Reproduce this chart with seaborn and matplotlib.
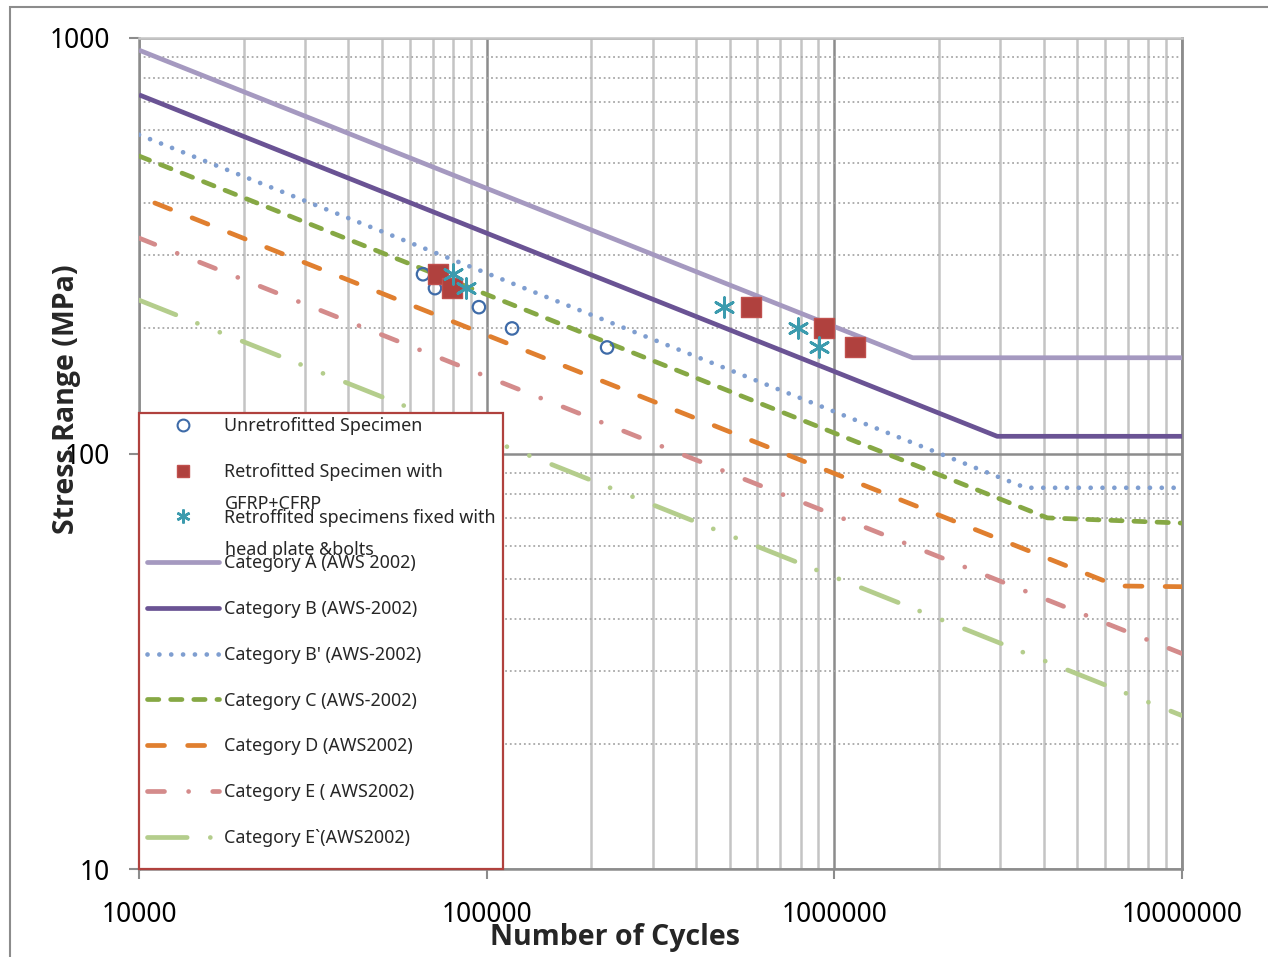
import numpy as np
import pandas as pd
import matplotlib
matplotlib.use("Agg")
import matplotlib.pyplot as plt
import seaborn as sns
from matplotlib.lines import Line2D
from matplotlib.patches import Rectangle
from matplotlib.ticker import FixedLocator, FixedFormatter, LogLocator, NullFormatter

# ---------------- data ----------------
cat_a_n = [1e4, 1.68e6, 1e7]
cat_a_s = [935, 170, 170]
cat_b_n = [1e4, 2.94e6, 1e7]
cat_b_s = [730, 110, 110]
cat_bp_n = [1e4, 3.55e6, 1e7]
cat_bp_s = [585, 82.7, 82.7]
cat_c_n = [1e4, 4.1e6, 1e7]
cat_c_s = [520, 70, 68]
cat_d_n = [1e4, 6.5e6, 1e7]
cat_d_s = [415, 48, 47.8]
cat_e_n = [1e4, 1e7]
cat_e_s = [330, 33]
cat_ep_n = [1e4, 1e7]
cat_ep_s = [234, 23.4]

unretro_n = [65600, 71000, 95000, 118300, 222000]
unretro_s = [270, 250, 225, 200, 180]
retro_n = [72400, 79500, 576000, 934000, 1146000]
retro_s = [270, 250, 225, 200, 180]
fixed_n = [80000, 87200, 481000, 786000, 903000]
fixed_s = [270, 250, 225, 200, 180]

x_ticks = [1e4, 1e5, 1e6, 1e7]
x_tick_labels = ["10000", "100000", "1000000", "10000000"]
y_ticks = [10, 100, 1000]
y_tick_labels = ["10", "100", "1000"]

legend_labels = [
    "Unretrofitted Specimen",
    "Retrofitted Specimen with",
    "Retroffited specimens fixed with",
    "Category A (AWS 2002)",
    "Category B (AWS-2002)",
    "Category B' (AWS-2002)",
    "Category C (AWS-2002)",
    "Category D (AWS2002)",
    "Category E ( AWS2002)",
    "Category E`(AWS2002)",
]
legend_overflow = ["GFRP+CFRP", "head plate &bolts"]

# ---------------- style ----------------
sns.set_style("white")
plt.rcParams["font.family"] = ["Noto Sans", "DejaVu Sans"]

W, H = 1268, 957
fig = plt.figure(figsize=(W / 100, H / 100), dpi=100)
L, R, T, B = 139, 1182, 38, 869
ax = fig.add_axes([L / W, 1 - B / H, (R - L) / W, (B - T) / H])

LW = 3.4
curves = [
    (cat_a_n, cat_a_s, "#A599C0", "-", "-"),
    (cat_b_n, cat_b_s, "#6A5394", "-", "-"),
    (cat_bp_n, cat_bp_s, "#7F9ED0", (0, (0.01, 2.5)), (0, (0.01, 2.5))),
    (cat_c_n, cat_c_s, "#86A844", (0, (2.4, 2.5)), (0, (2.4, 2.5))),
    (cat_d_n, cat_d_s, "#E07F2F", (4.9, (3.6, 4.9)), (0, (3.6, 4.9))),
    (cat_e_n, cat_e_s, "#D48B8B", (0, (3.6, 5.1, 0.01, 5.1)), (0, (3.6, 5.1, 0.01, 5.1))),
    (cat_ep_n, cat_ep_s, "#B4CD8C", (0, (8.4, 4.9, 0.01, 5.1, 0.01, 5.1)),
     (0, (8.4, 4.9, 0.01, 5.1, 0.01, 5.1))),
]

handles_lines = []
for n, s, col, ls, ls_leg in curves:
    sns.lineplot(x=n, y=s, ax=ax, color=col, lw=LW, estimator=None, sort=False,
                 legend=False)
    ln = ax.lines[-1]
    ln.set_linestyle(ls)
    ln.set_dash_capstyle("round")
    ln.set_solid_capstyle("butt")
    ln.set_zorder(3)
    h = Line2D([], [], color=col, lw=LW, linestyle=ls_leg, dash_capstyle="round",
               solid_capstyle="round")
    handles_lines.append(h)

# scatter series
sns.scatterplot(x=unretro_n, y=unretro_s, ax=ax, marker="o", s=80, legend=False)
c = ax.collections[-1]
c.set_facecolor("none"); c.set_edgecolor("#3E6BA8"); c.set_linewidth(1.6); c.set_zorder(5)

sns.scatterplot(x=retro_n, y=retro_s, ax=ax, marker="s", s=200, legend=False)
c = ax.collections[-1]
c.set_facecolor("#B0413E"); c.set_edgecolor("#C0504D"); c.set_linewidth(1.0); c.set_zorder(5)

sns.scatterplot(x=fixed_n, y=fixed_s, ax=ax, marker=(6, 2, 0), s=200, legend=False)
c = ax.collections[-1]
c.set_edgecolor("#3C9BAE"); c.set_facecolor("#3C9BAE"); c.set_linewidth(2.0); c.set_zorder(6)

# axes
ax.set_xscale("log")
ax.set_yscale("log")
ax.set_xlim(1e4, 1e7)
ax.set_ylim(10, 1000)

ax.xaxis.set_major_locator(FixedLocator(x_ticks))
ax.xaxis.set_major_formatter(FixedFormatter(x_tick_labels))
ax.yaxis.set_major_locator(FixedLocator(y_ticks))
ax.yaxis.set_major_formatter(FixedFormatter(y_tick_labels))
ax.xaxis.set_minor_locator(LogLocator(base=10, subs=np.arange(2, 10)))
ax.yaxis.set_minor_locator(LogLocator(base=10, subs=np.arange(2, 10)))
ax.xaxis.set_minor_formatter(NullFormatter())
ax.yaxis.set_minor_formatter(NullFormatter())

ax.tick_params(axis="both", which="major", direction="out", length=7, width=1.5,
               color="#8C8C8C", labelsize=19, labelcolor="black")
ax.tick_params(axis="y", which="major", pad=14, left=True)
ax.tick_params(axis="x", which="major", pad=16, bottom=True)
ax.tick_params(which="minor", length=0)

ax.grid(which="major", axis="x", color="#8C8C8C", lw=1.8, zorder=0)
ax.grid(which="minor", axis="x", color="#C4C4C4", lw=1.8, zorder=0)
ax.grid(which="major", axis="y", color="#8C8C8C", lw=1.8, zorder=0)
ax.grid(which="minor", axis="y", color="#A8A8A8", lw=1.3, linestyle=(0, (1, 1.6)), zorder=0)
ax.set_axisbelow(True)

for sp in ["left", "bottom"]:
    ax.spines[sp].set_color("#8C8C8C")
    ax.spines[sp].set_linewidth(1.8)
ax.spines["right"].set_color("#8C8C8C")
ax.spines["right"].set_linewidth(2.0)
ax.spines["top"].set_color("#C4C4C4")
ax.spines["top"].set_linewidth(1.8)

lab_font = ["Open Sans", "DejaVu Sans"]
ax.set_xlabel("Number of Cycles", fontsize=20.5, fontweight="bold", family=lab_font)
ax.set_ylabel("Stress Range (MPa)", fontsize=20.5, fontweight="bold", family=lab_font)
ax.xaxis.set_label_coords((615 - L) / (R - L), (B - 938) / (B - T))
ax.yaxis.set_label_coords((67 - L) / (R - L), (B - 399) / (B - T))
ax.xaxis.label.set_va("center")
ax.yaxis.label.set_va("center")
ax.yaxis.label.set_zorder(10)

# legend box (white, dark red border)
leg_box = Rectangle((0, 0), (503 - L) / (R - L), (B - 413) / (B - T), transform=ax.transAxes,
                    facecolor="white", edgecolor="#B0413E", lw=1.6, zorder=7, clip_on=False)
ax.add_patch(leg_box)

h_unretro = Line2D([], [], marker="o", linestyle="none", markersize=8.5,
                   markerfacecolor="none", markeredgecolor="#3E6BA8", markeredgewidth=1.5)
h_retro = Line2D([], [], marker="s", linestyle="none", markersize=9,
                 markerfacecolor="#B0413E", markeredgecolor="#C0504D")
h_fixed = Line2D([], [], marker=(6, 2, 0), linestyle="none", markersize=10,
                 color="#3C9BAE", markeredgewidth=1.8)
handles = [h_unretro, h_retro, h_fixed] + handles_lines

fs = 12.9
leg = ax.legend(handles, legend_labels, loc="upper left",
                bbox_to_anchor=(147 / W, 1 - 417 / H), bbox_transform=fig.transFigure,
                frameon=False, fontsize=fs, handlelength=4.0, handletextpad=0.3,
                labelspacing=1.55, borderpad=0, borderaxespad=0, numpoints=1)
leg.set_zorder(8)

for txt, yc in zip(legend_overflow, [504, 550]):
    fig.text(225 / W, 1 - yc / H, txt, fontsize=fs, ha="left", va="center", zorder=9)

# outer chart border
fig.patches.append(Rectangle((10 / W, -0.1), 1.2, 1.1 - 7 / H, transform=fig.transFigure,
                             fill=False, edgecolor="#8C8C8C", lw=1.5, zorder=0))

fig.savefig("out.png", dpi=100)
